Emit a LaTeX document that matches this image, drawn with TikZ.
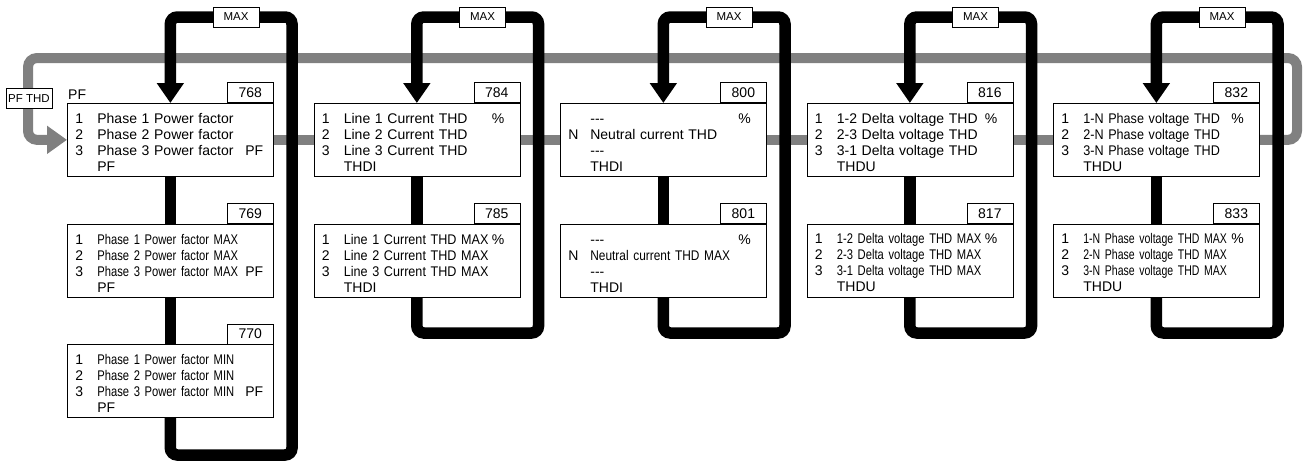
\documentclass[tikz,border=0pt]{standalone}
\usepackage{fontspec}
\setmainfont{Liberation Sans}
\newfontfamily\narrowA[FakeStretch=0.9]{Liberation Sans}
\newfontfamily\narrowB[FakeStretch=0.85]{Liberation Sans}
\newfontfamily\narrowC[FakeStretch=0.8]{Liberation Sans}
\newfontfamily\narrowD[FakeStretch=0.75]{Liberation Sans}
\usetikzlibrary{arrows.meta,positioning}
\pgfdeclarelayer{bg}
\pgfsetlayers{bg,main}
% one line of a measure box: index, name, unit
\newcommand\mline[3]{\makebox[22pt][l]{#1}\makebox[148pt][l]{#2}#3}
\tikzset{
  meas/.style={draw, fill=white, line width=0.7pt, minimum width=206pt,
    minimum height=73pt, inner xsep=8pt, inner ysep=3pt, text width=190pt,
    align=left, font=\fontsize{14}{16}\selectfont,
    execute at begin node={\rule{0pt}{15pt}}},
  tab/.style={draw, fill=white, line width=0.7pt, minimum width=46pt,
    minimum height=20pt, inner sep=0pt, anchor=south east,
    font=\fontsize{14}{16}\selectfont},
  lab/.style={draw, fill=white, line width=0.7pt, sharp corners,
    minimum width=46pt, minimum height=20pt, inner xsep=2pt, inner ysep=0pt,
    font=\fontsize{11.5}{12}\selectfont},
  blk/.style={line width=11.5pt, rounded corners=7pt},
  gry/.style={line width=10pt, gray, rounded corners=9pt},
  blktip/.style={-{Triangle[width=26pt,length=20pt]}},
  grytip/.style={-{Triangle[width=27pt,length=20pt]}}
}
\begin{document}
\begin{tikzpicture}[x=1pt,y=-1pt]
    \useasboundingbox (0,0) rectangle (1305,461);
    % PF column
    \node[meas, anchor=north west] (b768) at (67,103) {
      \mline{1}{Phase 1 Power factor}{}\\
      \mline{2}{Phase 2 Power factor}{}\\
      \mline{3}{Phase 3 Power factor}{PF}\\
      \mline{}{PF}{}};
    \node[meas, below=47pt of b768] (b769) {
      \mline{1}{\narrowC Phase 1 Power factor MAX}{}\\
      \mline{2}{\narrowC Phase 2 Power factor MAX}{}\\
      \mline{3}{\narrowC Phase 3 Power factor MAX}{PF}\\
      \mline{}{PF}{}};
    \node[meas, below=47pt of b769] (b770) {
      \mline{1}{\narrowC Phase 1 Power factor MIN}{}\\
      \mline{2}{\narrowC Phase 2 Power factor MIN}{}\\
      \mline{3}{\narrowC Phase 3 Power factor MIN}{PF}\\
      \mline{}{PF}{}};
    \node[tab] (n768) at (b768.north east) {768};
    \node[tab] (n769) at (b769.north east) {769};
    \node[tab] (n770) at (b770.north east) {770};
    \node[anchor=south west, inner xsep=1pt, inner ysep=3.5pt,
      font=\fontsize{14}{16}\selectfont] (t768) at (b768.north west) {PF};
    % current THD column
    \node[meas, anchor=north west] (b784) at (313.5,103) {
      \mline{1}{Line 1 Current THD}{\%}\\
      \mline{2}{Line 2 Current THD}{}\\
      \mline{3}{Line 3 Current THD}{}\\
      \mline{}{THDI}{}};
    \node[meas, below=47pt of b784] (b785) {
      \mline{1}{\narrowA Line 1 Current THD MAX}{\%}\\
      \mline{2}{\narrowA Line 2 Current THD MAX}{}\\
      \mline{3}{\narrowA Line 3 Current THD MAX}{}\\
      \mline{}{THDI}{}};
    \node[tab] (n784) at (b784.north east) {784};
    \node[tab] (n785) at (b785.north east) {785};
    % neutral THD column
    \node[meas, anchor=north west] (b800) at (560,103) {
      \mline{}{-{}-{}-}{\%}\\
      \mline{N}{Neutral current THD}{}\\
      \mline{}{-{}-{}-}{}\\
      \mline{}{THDI}{}};
    \node[meas, below=47pt of b800] (b801) {
      \mline{}{-{}-{}-}{\%}\\
      \mline{N}{\narrowB Neutral current THD MAX}{}\\
      \mline{}{-{}-{}-}{}\\
      \mline{}{THDI}{}};
    \node[tab] (n800) at (b800.north east) {800};
    \node[tab] (n801) at (b801.north east) {801};
    % delta voltage THD column
    \node[meas, anchor=north west] (b816) at (806.5,103) {
      \mline{1}{1-2 Delta voltage THD}{\%}\\
      \mline{2}{2-3 Delta voltage THD}{}\\
      \mline{3}{3-1 Delta voltage THD}{}\\
      \mline{}{THDU}{}};
    \node[meas, below=47pt of b816] (b817) {
      \mline{1}{\narrowC 1-2 Delta voltage THD MAX}{\%}\\
      \mline{2}{\narrowC 2-3 Delta voltage THD MAX}{}\\
      \mline{3}{\narrowC 3-1 Delta voltage THD MAX}{}\\
      \mline{}{THDU}{}};
    \node[tab] (n816) at (b816.north east) {816};
    \node[tab] (n817) at (b817.north east) {817};
    % phase voltage THD column
    \node[meas, anchor=north west] (b832) at (1053,103) {
      \mline{1}{\narrowA 1-N Phase voltage THD}{\%}\\
      \mline{2}{\narrowA 2-N Phase voltage THD}{}\\
      \mline{3}{\narrowA 3-N Phase voltage THD}{}\\
      \mline{}{THDU}{}};
    \node[meas, below=47pt of b832] (b833) {
      \mline{1}{\narrowD 1-N Phase voltage THD MAX}{\%}\\
      \mline{2}{\narrowD 2-N Phase voltage THD MAX}{}\\
      \mline{3}{\narrowD 3-N Phase voltage THD MAX}{}\\
      \mline{}{THDU}{}};
    \node[tab] (n832) at (b832.north east) {832};
    \node[tab] (n833) at (b833.north east) {833};
    \node[lab] (pfthd) at (29,98.5) {PF THD};
    % corners of the loops
    \coordinate (gr) at (1297,58);\coordinate (gl) at (28,58);
    \coordinate (m768) at (292,17);\coordinate (e770) at (292,455);
    \coordinate (m784) at (538.5,17);\coordinate (e785) at (538.5,333);
    \coordinate (m800) at (785,17);\coordinate (e801) at (785,333);
    \coordinate (m816) at (1031.5,17);\coordinate (e817) at (1031.5,333);
    \coordinate (m832) at (1278,17);\coordinate (e833) at (1278,333);
    \begin{pgfonlayer}{bg}
      % gray THD ring
      \draw[gry, grytip] (b832.east) -| (gr) -- (gl) |- (b768.west);
      \draw[gry] (b768.east) -- (b784.west);\draw[gry] (b784.east) -- (b800.west);
      \draw[gry] (b800.east) -- (b816.west);\draw[gry] (b816.east) -- (b832.west);
      % black MAX loops
      \draw[blk] (b768.south) -- (b769.north);\draw[blk] (b769.south) -- (b770.north);
      \draw[blk, blktip] (b770.south) |- (e770) -- (m768)
        -| node[lab, pos=0.23] (max768) {MAX} (b768.north);
      \draw[blk] (b784.south) -- (b785.north);
      \draw[blk, blktip] (b785.south) |- (e785) -- (m784)
        -| node[lab, pos=0.23] (max784) {MAX} (b784.north);
      \draw[blk] (b800.south) -- (b801.north);
      \draw[blk, blktip] (b801.south) |- (e801) -- (m800)
        -| node[lab, pos=0.23] (max800) {MAX} (b800.north);
      \draw[blk] (b816.south) -- (b817.north);
      \draw[blk, blktip] (b817.south) |- (e817) -- (m816)
        -| node[lab, pos=0.23] (max816) {MAX} (b816.north);
      \draw[blk] (b832.south) -- (b833.north);
      \draw[blk, blktip] (b833.south) |- (e833) -- (m832)
        -| node[lab, pos=0.23] (max832) {MAX} (b832.north);
    \end{pgfonlayer}
\end{tikzpicture}
\end{document}
